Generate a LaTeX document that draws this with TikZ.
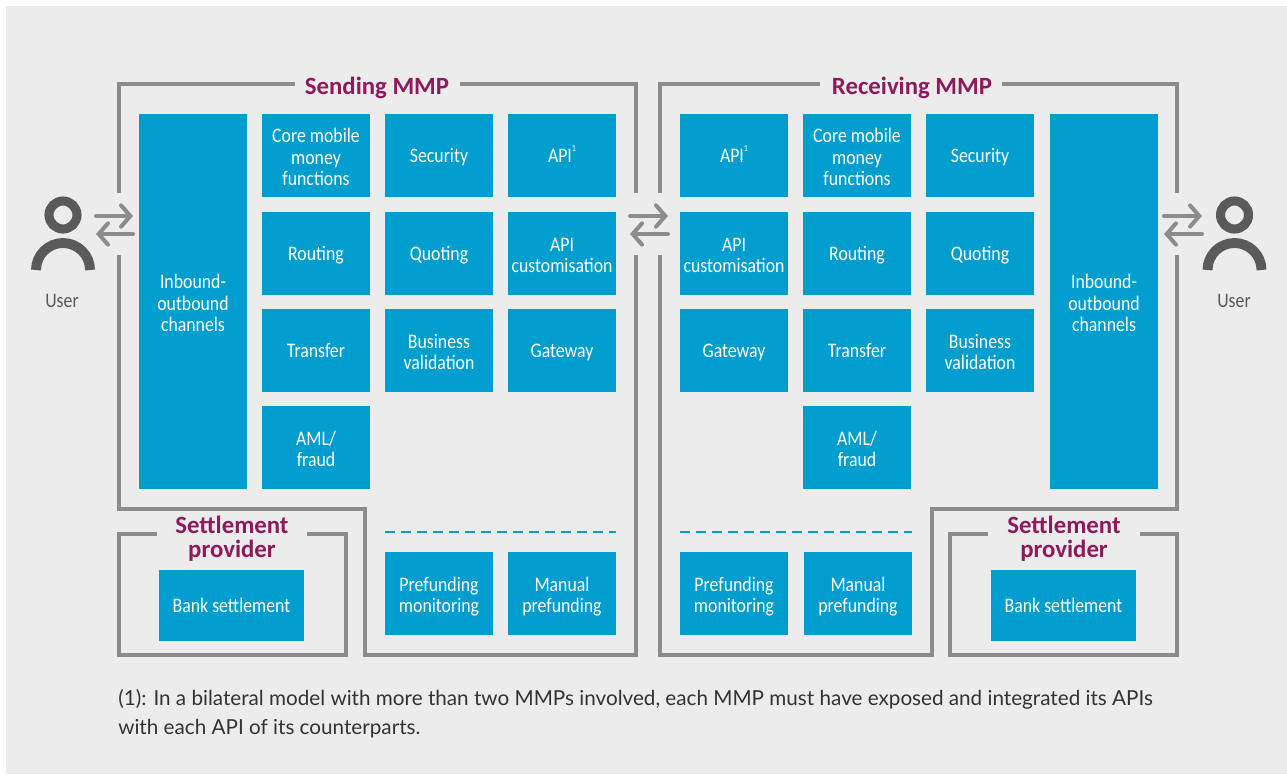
\documentclass[tikz,border=0pt]{standalone}
\usepackage{fontspec}
\setmainfont{Carlito}
\newfontfamily\narrowfont[FakeStretch=0.86]{Carlito}
\newfontfamily\notefont{Lato}
\definecolor{panelgrey}{HTML}{ECECEC}
\definecolor{boxblue}{HTML}{009ECE}
\definecolor{framegrey}{HTML}{8C8C8C}
\definecolor{icongrey}{HTML}{5A5A5A}
\definecolor{titleplum}{HTML}{8E1A5C}
\newcommand{\apimark}{\raisebox{1.05ex}{\fontsize{7}{7}\selectfont 1}}
\newcommand{\firstline}{\rule{0pt}{17pt}}
\tikzset{
    boxnode/.style={fill=boxblue,text=white,align=center,inner sep=0pt,minimum width=81pt,minimum height=62.25pt,
        font=\narrowfont\fontsize{15.5}{16}\selectfont,execute at begin node={\rule[-4pt]{0pt}{18pt}}},
    frameline/.style={draw=framegrey,line width=2.3pt,line join=miter},
    titlenode/.style={text=titleplum,align=center,inner sep=0pt,font=\fontsize{18.6}{18}\selectfont\bfseries},
    flowarrow/.style={draw=framegrey,line width=3pt,line cap=round,line join=round,-{Straight Barb[length=7pt,width=16pt,line cap=round]}},
    usernode/.style={text=icongrey,inner sep=0pt,font=\narrowfont\fontsize{15.5}{16}\selectfont},
}
\usetikzlibrary{arrows.meta}
\begin{document}
\begin{tikzpicture}[x=0.75pt,y=-0.75pt]

    \useasboundingbox (0,0) rectangle (1287,774);
    \fill[white] (0,0) rectangle (1287,774);
    \fill[panelgrey] (6,6) rectangle (1287,774);

    % frames
    \draw[frameline] (119,193) -- (119,84) -- (295,84);
    \draw[frameline] (460,84) -- (636,84) -- (636,193);
    \draw[frameline] (636,255) -- (636,655) -- (365,655) -- (365,509) -- (119,509) -- (119,255);
    \draw[frameline] (660,193) -- (660,84) -- (820,84);
    \draw[frameline] (1002,84) -- (1177,84) -- (1177,193);
    \draw[frameline] (1177,255) -- (1177,509) -- (932,509) -- (932,655) -- (660,655) -- (660,255);
    \draw[frameline] (157,534) -- (119,534) -- (119,655) -- (346,655) -- (346,534) -- (307,534);
    \draw[frameline] (988,534) -- (950,534) -- (950,655) -- (1177,655) -- (1177,534) -- (1140,534);

    \node[titlenode] (sendtitle) at (377,88) {Sending MMP};
    \node[titlenode] (recvtitle) at (912,88) {Receiving MMP};
    \node[titlenode] (settleL) at (232,539) {Settlement\\provider};
    \node[titlenode] (settleR) at (1064,539) {Settlement\\provider};

    % tall boxes
    \node[boxnode,minimum height=281.25pt] (inboundL) at (193,301.5) {\firstline Inbound-\\outbound\\channels};
    \node[boxnode,minimum height=281.25pt] (inboundR) at (1104,301.5) {\firstline Inbound-\\outbound\\channels};

    % regular boxes
    \foreach \n/\x/\y/\txt in {
        coreL/316/155.5/{\firstline Core mobile\\money\\functions},
        secL/439/155.5/Security,
        apiL/562/155.5/{API\apimark},
        routeL/316/253.5/Routing,
        quoteL/439/253.5/Quoting,
        custL/562/253.5/{\firstline API\\customisation},
        transL/316/350.5/Transfer,
        validL/439/350.5/{\firstline Business\\validation},
        gateL/562/350.5/Gateway,
        amlL/316/447.5/{\firstline AML/\\fraud},
        prefL/439/593.5/{\firstline Prefunding\\monitoring},
        manL/562/593.5/{\firstline Manual\\prefunding},
        apiR/734/155.5/{API\apimark},
        coreR/857/155.5/{\firstline Core mobile\\money\\functions},
        secR/980/155.5/Security,
        custR/734/253.5/{\firstline API\\customisation},
        routeR/857/253.5/Routing,
        quoteR/980/253.5/Quoting,
        gateR/734/350.5/Gateway,
        transR/857/350.5/Transfer,
        validR/980/350.5/{\firstline Business\\validation},
        amlR/857/447.5/{\firstline AML/\\fraud},
        prefR/734/593.5/{\firstline Prefunding\\monitoring},
        manR/858/593.5/{\firstline Manual\\prefunding}} {
        \node[boxnode] (\n) at (\x,\y) {\txt};
    }
    \node[boxnode,minimum width=108.75pt,minimum height=53.25pt] (bankL) at (231.5,605.5) {Bank settlement};
    \node[boxnode,minimum width=108.75pt,minimum height=53.25pt] (bankR) at (1063.5,605.5) {Bank settlement};

    \draw[boxblue,line width=2pt,dash pattern=on 7.5pt off 4.5pt] (385,532) -- (616,532);
    \draw[boxblue,line width=2pt,dash pattern=on 7.5pt off 4.5pt] (680,532) -- (912,532);

    % users
    \foreach \n/\x/\lx in {L/63/62,R/1234.5/1234} {
        \draw[icongrey,line width=6.8pt] (\x,215) circle (14);
        \draw[icongrey,line width=7.4pt] (\x-27,270) arc[start angle=180,end angle=360,radius=27];
        \node[usernode] (user\n) at (\lx,301) {User};
    }

    % arrows
    \coordinate (arrA) at (96,216); \coordinate (arrB) at (133,216);
    \coordinate (arrC) at (133,234); \coordinate (arrD) at (96,234);
    \coordinate (arrE) at (630,216); \coordinate (arrF) at (668,216);
    \coordinate (arrG) at (668,234); \coordinate (arrH) at (630,234);
    \coordinate (arrI) at (1164,216); \coordinate (arrJ) at (1202,216);
    \coordinate (arrK) at (1202,234); \coordinate (arrM) at (1164,234);
    \draw[flowarrow] (arrA) -- (arrB);
    \draw[flowarrow] (arrC) -- (arrD);
    \draw[flowarrow] (arrE) -- (arrF);
    \draw[flowarrow] (arrG) -- (arrH);
    \draw[flowarrow] (arrI) -- (arrJ);
    \draw[flowarrow] (arrK) -- (arrM);

    \node[anchor=north west,inner sep=0pt,align=left,text=black!80,font=\notefont\fontsize{15.5}{22}\selectfont] (footnote) at (118,689)
        {(1): In a bilateral model with more than two MMPs involved, each MMP must have exposed and integrated its APIs\\with each API of its counterparts.};

\end{tikzpicture}
\end{document}
